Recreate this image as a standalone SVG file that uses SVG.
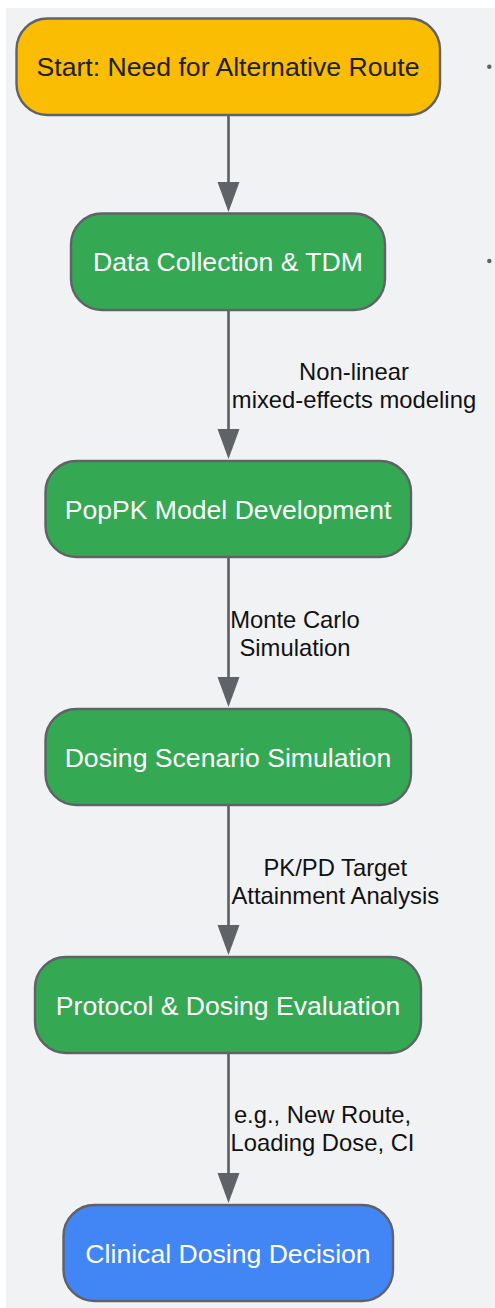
<svg xmlns="http://www.w3.org/2000/svg" width="495" height="1308" viewBox="0 0 495 1308">
<defs>
<style>
.node rect{stroke:#5f6368;stroke-width:2.4}
.nt{font-family:"Liberation Sans",Arial,sans-serif;font-size:26.6px;text-anchor:middle}
.lbl{font-family:"Liberation Sans",Arial,sans-serif;font-size:23.8px;text-anchor:middle;fill:#111}
.edge{stroke:#5f6368;stroke-width:2.7;fill:none}
.head{fill:#5f6368}
</style>
</defs>
<rect x="0" y="0" width="495" height="1308" fill="#ffffff"/>
<rect x="6" y="8" width="489" height="1300" fill="#f1f2f4"/>
<circle cx="489.3" cy="66.7" r="2.2" fill="#5f6368"/>
<circle cx="489.3" cy="261" r="2.2" fill="#5f6368"/>
<g id="connectors">
<line class="edge" x1="228.5" y1="115" x2="228.5" y2="185"/>
<polygon class="head" points="217.5,182 239.5,182 228.5,212"/>
<line class="edge" x1="228.5" y1="310" x2="228.5" y2="432"/>
<polygon class="head" points="217.5,429 239.5,429 228.5,459"/>
<text class="lbl" x="354" y="379.5">Non-linear</text>
<text class="lbl" x="354" y="408">mixed-effects modeling</text>
<line class="edge" x1="228.5" y1="557" x2="228.5" y2="680"/>
<polygon class="head" points="217.5,677 239.5,677 228.5,707"/>
<text class="lbl" x="295" y="627.7">Monte Carlo</text>
<text class="lbl" x="295" y="655.5">Simulation</text>
<line class="edge" x1="228.5" y1="805" x2="228.5" y2="928"/>
<polygon class="head" points="217.5,925 239.5,925 228.5,955"/>
<text class="lbl" x="335.3" y="876">PK/PD Target</text>
<text class="lbl" x="335.3" y="903.5">Attainment Analysis</text>
<line class="edge" x1="228.5" y1="1053" x2="228.5" y2="1176"/>
<polygon class="head" points="217.5,1173 239.5,1173 228.5,1203"/>
<text class="lbl" x="322.5" y="1123.3">e.g., New Route,</text>
<text class="lbl" x="322.5" y="1151.3">Loading Dose, CI</text>
</g>
<g id="start" class="node">
<rect x="16.5" y="18.5" width="423.5" height="96.5" rx="31" fill="#fbbc04"/>
<text class="nt" x="228" y="76" fill="#202124">Start: Need for Alternative Route</text>
</g>
<g id="data" class="node">
<rect x="71" y="213.5" width="314" height="96.5" rx="31" fill="#34a853"/>
<text class="nt" x="228" y="271" fill="#ffffff">Data Collection &amp; TDM</text>
</g>
<g id="poppk" class="node">
<rect x="45.5" y="461" width="365.5" height="96" rx="31" fill="#34a853"/>
<text class="nt" x="228" y="518.5" fill="#ffffff">PopPK Model Development</text>
</g>
<g id="dosing" class="node">
<rect x="45.5" y="709" width="365.5" height="96" rx="31" fill="#34a853"/>
<text class="nt" x="228" y="766.5" fill="#ffffff">Dosing Scenario Simulation</text>
</g>
<g id="protocol" class="node">
<rect x="35" y="957" width="386" height="96" rx="31" fill="#34a853"/>
<text class="nt" x="228" y="1014.5" fill="#ffffff">Protocol &amp; Dosing Evaluation</text>
</g>
<g id="decision" class="node">
<rect x="63.5" y="1205" width="329.5" height="96" rx="31" fill="#4285f4"/>
<text class="nt" x="228" y="1262.5" fill="#ffffff">Clinical Dosing Decision</text>
</g>
</svg>
